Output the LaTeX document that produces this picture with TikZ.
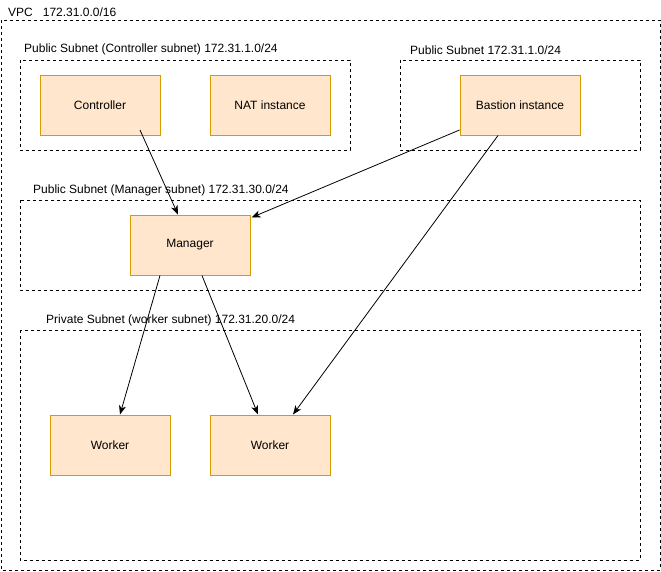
\documentclass[tikz,border=0pt]{standalone}
\usepackage{fontspec}
\setmainfont{Liberation Sans}
\usetikzlibrary{arrows.meta}
\definecolor{boxfill}{HTML}{FFE6CC}
\definecolor{boxline}{HTML}{D79B00}
\begin{document}
\begin{tikzpicture}[x=1pt,y=-1pt,
  font=\fontsize{12}{14}\selectfont,
  zone/.style={draw=black,line width=0.8pt,dash pattern=on 3pt off 3pt},
  host/.style={draw=boxline,fill=boxfill,line width=1pt,minimum width=120pt,minimum height=60pt,inner sep=0pt},
  tag/.style={anchor=west,inner sep=0pt},
  link/.style={draw=black,line width=0.8pt,-{Stealth[length=9pt,width=7pt,inset=2.5pt]}}]
\useasboundingbox (0,0) rectangle (661,571);
% network zones
\draw[zone] (1,20) rectangle (660,570);
\draw[zone] (20,60) rectangle (350,150);
\draw[zone] (400,60) rectangle (640,150);
\draw[zone] (20,200) rectangle (640,290);
\draw[zone] (20,330) rectangle (640,560);
% zone labels
\node[tag] (lvpc) at (8,12) {VPC\hspace{10pt}172.31.0.0/16};
\node[tag] (lctl) at (24,49) {Public Subnet (Controller subnet) 172.31.1.0/24};
\node[tag] (lbas) at (410,50) {Public Subnet 172.31.1.0/24};
\node[tag] (lmgr) at (33,190) {Public Subnet (Manager subnet) 172.31.30.0/24};
\node[tag] (lwrk) at (46,320) {Private Subnet (worker subnet) 172.31.20.0/24};
% instances
\node[host] (ctrl) at (100,105) {Controller};
\node[host] (nat) at (270,105) {NAT instance};
\node[host] (bas) at (520,105) {Bastion instance};
\node[host] (mgr) at (190,245) {Manager};
\node[host] (w1) at (110,445) {Worker};
\node[host] (w2) at (270,445) {Worker};
% connections
\draw[link] ([xshift=40pt,yshift=-25pt]ctrl.center) -- ([xshift=-12pt]mgr.north);
\draw[link] ([yshift=-25pt]bas.west) -- ([xshift=1pt,yshift=-3pt]mgr.north east);
\draw[link] ([xshift=-22pt]bas.south) -- ([xshift=23pt]w2.north);
\draw[link] ([xshift=-30pt]mgr.south) -- ([xshift=10pt]w1.north);
\draw[link] ([xshift=12pt]mgr.south) -- ([xshift=-12pt]w2.north);
\end{tikzpicture}
\end{document}
